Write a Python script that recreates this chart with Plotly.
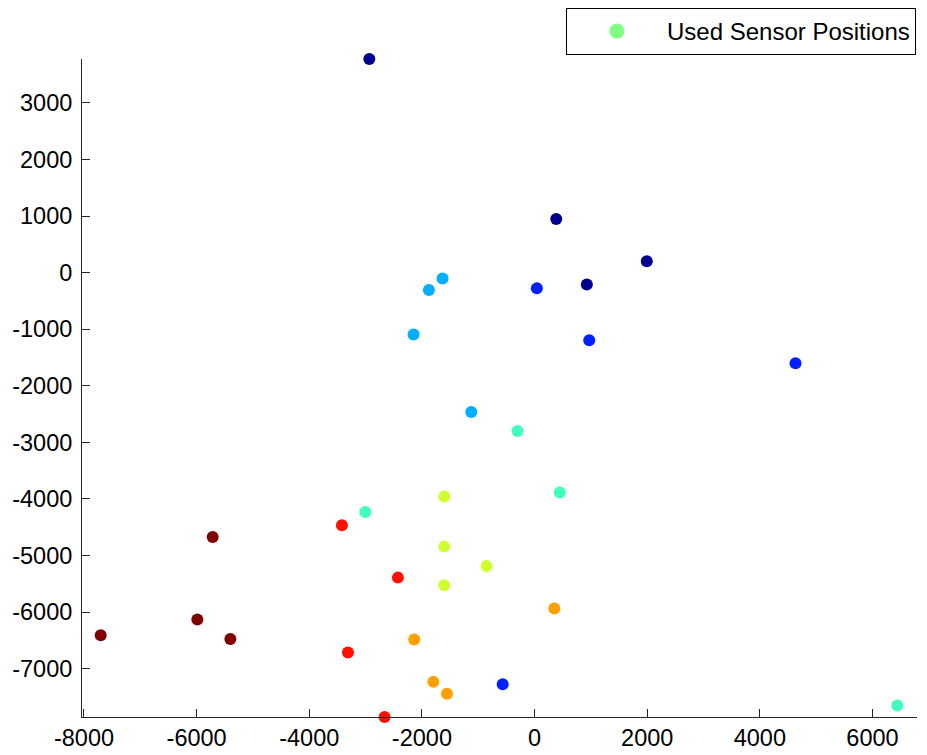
import plotly.graph_objects as go

# Sensor positions grouped by colour (jet colormap levels)
group_colors = ["#00008F", "#0020FF", "#00AFFF", "#40FFBF",
                "#CFFF30", "#FF9F00", "#FF1000", "#800000"]

x_g1 = [-2934, 385, 1993, 928]
y_g1 = [3776, 947, 200, -212]
x_g2 = [41, 971, 4633, -566]
y_g2 = [-278, -1197, -1603, -7278]
x_g3 = [-1633, -1876, -2148, -1124]
y_g3 = [-106, -307, -1096, -2464]
x_g4 = [-302, 449, -3005, 6440]
y_g4 = [-2800, -3889, -4232, -7651]
x_g5 = [-1603, -1603, -852, -1603]
y_g5 = [-3960, -4844, -5187, -5528]
x_g6 = [351, -2137, -1798, -1555]
y_g6 = [-5936, -6488, -7235, -7444]
x_g7 = [-3420, -2426, -3313, -2662]
y_g7 = [-4467, -5392, -6717, -7856]
x_g8 = [-7703, -5715, -5987, -5401]
y_g8 = [-6412, -4674, -6134, -6477]

xs = [x_g1, x_g2, x_g3, x_g4, x_g5, x_g6, x_g7, x_g8]
ys = [y_g1, y_g2, y_g3, y_g4, y_g5, y_g6, y_g7, y_g8]

legend_name = "Used Sensor Positions"
legend_color = "#80FF80"

x_ticks = [-8000, -6000, -4000, -2000, 0, 2000, 4000, 6000]
y_ticks = [-7000, -6000, -5000, -4000, -3000, -2000, -1000, 0, 1000, 2000, 3000]

fig = go.Figure()
for gx, gy, c in zip(xs, ys, group_colors):
    fig.add_trace(go.Scatter(x=gx, y=gy, mode="markers",
                             marker=dict(color=c, size=12, line=dict(width=0)),
                             showlegend=False, cliponaxis=False))

fig.add_trace(go.Scatter(x=[None], y=[None], mode="markers", name=legend_name,
                         marker=dict(color=legend_color, size=15, line=dict(width=0)),
                         showlegend=True))

axis_common = dict(showgrid=False, zeroline=False, showline=True,
                   linecolor="#262626", linewidth=1, ticks="inside",
                   ticklen=8, tickcolor="#262626", tickwidth=1,
                   tickfont=dict(family="Liberation Sans, Arial", size=23.5, color="black"),
                   mirror=False, automargin=False)

fig.update_xaxes(range=[-8035, 6790], tickvals=x_ticks,
                 ticktext=[str(v) for v in x_ticks], **axis_common)
fig.update_yaxes(range=[-7856, 3776], tickvals=y_ticks,
                 ticktext=[str(v) for v in y_ticks], ticklabelstandoff=4,
                 **axis_common)

# The page body has an 8px default margin, so the figure is 8px smaller
fig.update_layout(
    width=919, height=747,
    margin=dict(l=74, r=10, t=51, b=38, pad=0, autoexpand=False),
    plot_bgcolor="white", paper_bgcolor="white",
    legend=dict(xref="container", yref="container",
                x=558 / 919, y=1.0, xanchor="left", yanchor="top",
                bgcolor="white", bordercolor="black", borderwidth=1,
                itemwidth=90,
                font=dict(family="Liberation Sans, Arial", size=24, color="black")),
)

fig.write_html("out.html")
